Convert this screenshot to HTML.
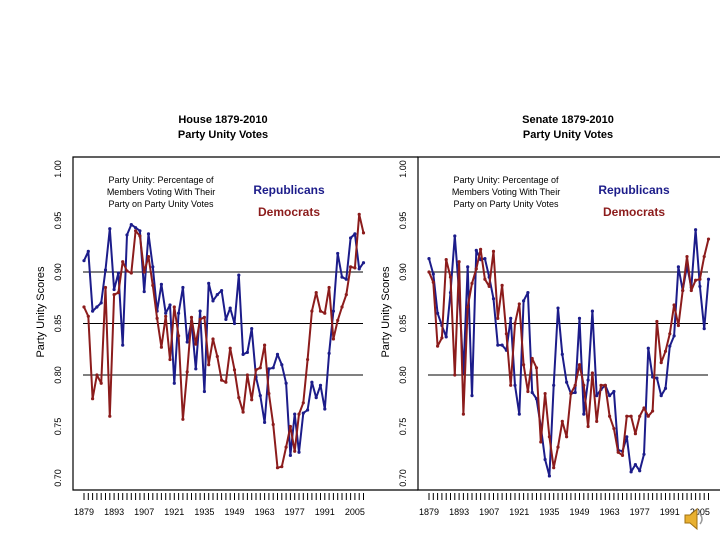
<!DOCTYPE html>
<html><head><meta charset="utf-8"><style>
body{margin:0;background:#fff;width:720px;height:540px;overflow:hidden}
svg{display:block;font-family:"Liberation Sans",sans-serif}
</style></head><body>
<svg id="chart" width="720" height="540"></svg>
<script>
const houseRep=[.911,.920,.862,.866,.870,.902,.942,.883,.899,.829,.936,.946,.943,.940,.881,.937,.905,.862,.888,.860,.868,.792,.860,.885,.832,.852,.806,.862,.784,.889,.872,.878,.882,.854,.865,.850,.897,.820,.822,.845,.798,.780,.754,.806,.807,.820,.810,.792,.722,.762,.725,.763,.766,.793,.778,.790,.767,.821,.862,.918,.895,.893,.933,.937,.903,.909];
const houseDem=[.866,.857,.777,.800,.792,.885,.760,.878,.880,.910,.901,.899,.940,.935,.900,.915,.887,.855,.827,.857,.815,.866,.838,.757,.803,.856,.830,.854,.856,.810,.835,.818,.795,.793,.826,.805,.778,.764,.800,.776,.805,.807,.829,.782,.752,.710,.711,.730,.750,.726,.762,.773,.815,.862,.880,.862,.860,.885,.835,.853,.866,.878,.905,.904,.956,.938];
const senRep=[.913,.898,.860,.848,.837,.880,.935,.880,.802,.905,.780,.921,.912,.913,.895,.874,.829,.829,.824,.855,.790,.762,.872,.880,.783,.777,.750,.718,.702,.790,.865,.820,.793,.782,.783,.855,.762,.795,.862,.780,.786,.790,.780,.784,.727,.726,.740,.706,.713,.707,.723,.826,.798,.797,.780,.787,.828,.838,.905,.882,.906,.885,.941,.886,.845,.893];
const senDem=[.900,.890,.828,.836,.912,.895,.800,.910,.762,.866,.889,.903,.922,.893,.886,.920,.855,.887,.840,.790,.850,.869,.810,.784,.816,.807,.735,.782,.740,.710,.730,.755,.740,.782,.790,.810,.790,.750,.802,.755,.790,.790,.760,.748,.725,.722,.760,.760,.743,.760,.768,.760,.765,.852,.812,.823,.840,.868,.848,.882,.915,.882,.892,.893,.915,.932];
const yTicks=[0.70,0.75,0.80,0.85,0.90,0.95,1.00];
const yTickLabels=["0.70","0.75","0.80","0.85","0.90","0.95","1.00"];
const xTickLabels=[1879,1893,1907,1921,1935,1949,1963,1977,1991,2005];
const gridVals=[0.80,0.85,0.90];
const NS="http://www.w3.org/2000/svg";
const svg=document.getElementById('chart');
function el(tag,attrs,parent){const e=document.createElementNS(NS,tag);for(const k in attrs)e.setAttribute(k,attrs[k]);(parent||svg).appendChild(e);return e;}
function panel(x0,title,rep,dem,name){
  const g=el('g',{});
  
  
  const yS=v=>272-(v-0.90)/0.05*51.5;
  const xS=yr=>x0+11+(yr-1879)*2.15;
  // box
  const box=el('path',{d:`M${x0+345} 157 H${x0} V490 H${x0+345}`,fill:'none',stroke:'#000','stroke-width':1.2},g);
  
  
  gridVals.forEach(v=>{const l=el('line',{x1:x0+10,x2:x0+290,y1:yS(v),y2:yS(v),stroke:'#000','stroke-width':1},g);
    
    });
  yTicks.forEach((v,i)=>{const t=el('text',{x:0,y:0,'font-size':9,'text-anchor':'middle',transform:`translate(${x0-12},${yS(v)}) rotate(-90)`},g);t.textContent=yTickLabels[i];
    
    });
  for(let yr=1879;yr<=2009;yr+=2){el('line',{x1:xS(yr),x2:xS(yr),y1:493,y2:500,stroke:'#000','stroke-width':1},g);}
  xTickLabels.forEach(yr=>{const t=el('text',{x:xS(yr),y:515,'font-size':9,'text-anchor':'middle'},g);t.textContent=yr;
    
    });
  const yl=el('text',{x:0,y:0,'font-size':11,'text-anchor':'middle',transform:`translate(${x0-29},312) rotate(-90)`},g);yl.textContent='Party Unity Scores';
  
  
  [title,'Party Unity Votes'].forEach((s,i)=>{const t=el('text',{x:x0+150,y:123+i*15,'font-size':11,'font-weight':'bold','text-anchor':'middle'},g);t.textContent=s;
    
    });
  ['Party Unity: Percentage of','Members Voting With Their','Party on Party Unity Votes'].forEach((s,i)=>{const t=el('text',{x:x0+88,y:183+i*12,'font-size':9,'text-anchor':'middle'},g);t.textContent=s;
    
    });
  const lr=el('text',{x:x0+216,y:194,'font-size':12,'font-weight':'bold',fill:'#1c1c8a','text-anchor':'middle'},g);lr.textContent='Republicans';
  
  
  const ld=el('text',{x:x0+216,y:216,'font-size':12,'font-weight':'bold',fill:'#8c1c1c','text-anchor':'middle'},g);ld.textContent='Democrats';
  
  
  [[rep,'#1c1c8a','republican-line'],[dem,'#8c1c1c','democrat-line']].forEach(([arr,c,n])=>{
    const pts=arr.map((v,i)=>xS(1879+2*i).toFixed(1)+','+yS(v).toFixed(1)).join(' ');
    const p=el('polyline',{points:pts,fill:'none',stroke:c,'stroke-width':2,'stroke-linejoin':'round'},g);
    
    
    arr.forEach((v,i)=>{const d=el('circle',{cx:xS(1879+2*i),cy:yS(v),r:1.6,fill:c},g);
      
      });
  });
}
panel(73,'House 1879-2010',houseRep,houseDem,'house-chart');
panel(418,'Senate 1879-2010',senRep,senDem,'senate-chart');
</script>
<svg style="position:absolute;left:682px;top:506px" width="26" height="26">
<path d="M3 9 H8 L15 3 V23 L8 17 H3 Z" fill="#e8b030" stroke="#a07010"/>
<path d="M18 8 Q22 13 18 18" fill="none" stroke="#999" stroke-width="1.5"/>
</svg>
</body></html>
